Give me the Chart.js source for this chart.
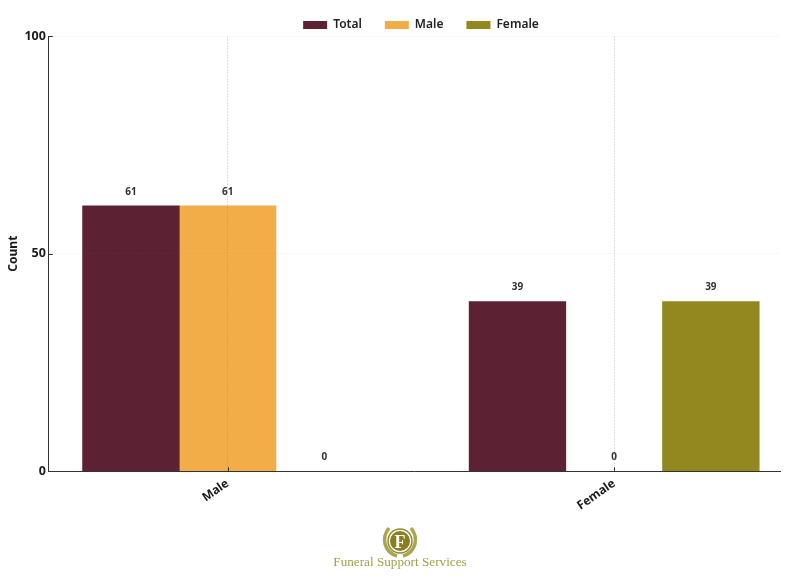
<!DOCTYPE html>
<html>
<head>
<meta charset="utf-8">
<script src="https://cdn.jsdelivr.net/npm/chart.js@4"></script>
<style>
html,body{margin:0;padding:0;background:#fff;width:800px;height:578px;overflow:hidden}
#wrap{position:relative;width:800px;height:578px}
#logo{position:absolute;left:380px;top:526px}
#brand{position:absolute;left:300px;width:200px;top:553px;text-align:center;font:13.2px/18px "Liberation Serif",serif;color:#a3a04a;white-space:nowrap}
</style>
</head>
<body>
<div id="wrap">
<canvas id="c" width="800" height="578"></canvas>
<svg id="logo" width="40" height="32" viewBox="0 0 40 32">
  <path d="M9 2 C1 12 4 26 17 30" fill="none" stroke="#a8a650" stroke-width="3.5"/>
  <path d="M31 2 C39 12 36 26 23 30" fill="none" stroke="#a8a650" stroke-width="3.5"/>
  <circle cx="20" cy="15" r="12" fill="#fff" stroke="#8f8c2a" stroke-width="1.5"/>
  <circle cx="20" cy="15" r="10" fill="#8a7d22"/>
  <text x="20" y="21.5" text-anchor="middle" font-family="Liberation Serif" font-weight="bold" font-size="18" fill="#fff">F</text>
</svg>
<div id="brand">Funeral Support Services</div>
</div>
<script>
const categories = ['Male', 'Female'];
const totalValues = [61, 39];
const maleValues = [61, 0];
const femaleValues = [0, 39];
const yTicks = [0, 50, 100];
const FONT = '"Noto Sans", sans-serif';
const INK = '#1a1a1a';
const toPoints = v => v.map((y, x) => ({x, y}));

const valueLabels = {
  id: 'valueLabels',
  afterDatasetsDraw(chart) {
    const ctx = chart.ctx;
    ctx.save();
    ctx.font = '700 10px ' + FONT;
    ctx.fillStyle = '#333';
    ctx.textAlign = 'center';
    ctx.textBaseline = 'middle';
    chart.data.datasets.forEach((ds, i) => {
      chart.getDatasetMeta(i).data.forEach((bar, j) => {
        ctx.fillText(String(ds.data[j].y), bar.x, bar.y - 14);
      });
    });
    ctx.restore();
  }
};

const legendShift = {
  id: 'legendShift',
  afterLayout(chart) {
    const l = chart.legend;
    l.left += 28; l.right += 28;
    l.top += 5; l.bottom += 5;
  }
};

const inwardTicks = {
  id: 'inwardTicks',
  afterDraw(chart) {
    const {ctx, chartArea, scales} = chart;
    ctx.save();
    ctx.strokeStyle = '#333';
    ctx.lineWidth = 1;
    ctx.beginPath();
    scales.y.ticks.forEach(t => {
      const y = Math.round(scales.y.getPixelForValue(t.value)) + 0.5;
      ctx.moveTo(chartArea.left, y);
      ctx.lineTo(chartArea.left + 4, y);
    });
    scales.x.ticks.forEach(t => {
      const x = Math.round(scales.x.getPixelForValue(t.value)) + 0.5;
      ctx.moveTo(x, chartArea.bottom);
      ctx.lineTo(x, chartArea.bottom - 4);
    });
    ctx.stroke();
    ctx.restore();
  }
};

new Chart(document.getElementById('c'), {
  type: 'bar',
  plugins: [valueLabels, legendShift, inwardTicks],
  data: {
    datasets: [
      {label: 'Total', data: toPoints(totalValues), backgroundColor: '#5c2132', barThickness: 96.7},
      {label: 'Male', data: toPoints(maleValues), backgroundColor: '#f2ad48', barThickness: 96.7},
      {label: 'Female', data: toPoints(femaleValues), backgroundColor: '#93871f', barThickness: 96.7}
    ]
  },
  options: {
    responsive: false,
    animation: false,
    layout: {padding: {top: -9, right: 20, bottom: 60, left: 6}},
    plugins: {
      tooltip: {enabled: false},
      legend: {
        position: 'top',
        labels: {boxWidth: 24, boxHeight: 8, padding: 23, color: '#222', font: {family: FONT, size: 12, weight: '600'}}
      }
    },
    scales: {
      x: {
        type: 'linear',
        offset: false,
        min: -0.4625,
        max: 1.429,
        afterBuildTicks: axis => { axis.ticks = categories.map((_, i) => ({value: i})); },
        ticks: {
          autoSkip: false,
          maxRotation: 35,
          minRotation: 35,
          align: 'end',
          color: INK,
          padding: 5,
          font: {family: FONT, size: 12, weight: '700'},
          callback: v => categories[v]
        },
        grid: {offset: false, color: 'rgba(130,130,130,0.25)', lineWidth: 1, tickLength: 0, z: 1},
        border: {display: true, color: '#333', width: 1, dash: [2, 1], z: 2}
      },
      y: {
        min: 0,
        max: 100,
        afterBuildTicks: axis => { axis.ticks = yTicks.map(value => ({value})); },
        title: {display: true, text: 'Count', color: INK, padding: {top: 0, bottom: 1}, font: {family: FONT, size: 12, weight: '700'}},
        ticks: {color: INK, padding: 3, font: {family: FONT, size: 12.5, weight: '700'}},
        grid: {color: 'rgba(130,130,130,0.08)', lineWidth: 1, tickLength: 0, z: 1},
        border: {display: true, color: '#333', width: 1, dash: [2, 1], z: 2}
      }
    }
  }
});
</script>
</body>
</html>
